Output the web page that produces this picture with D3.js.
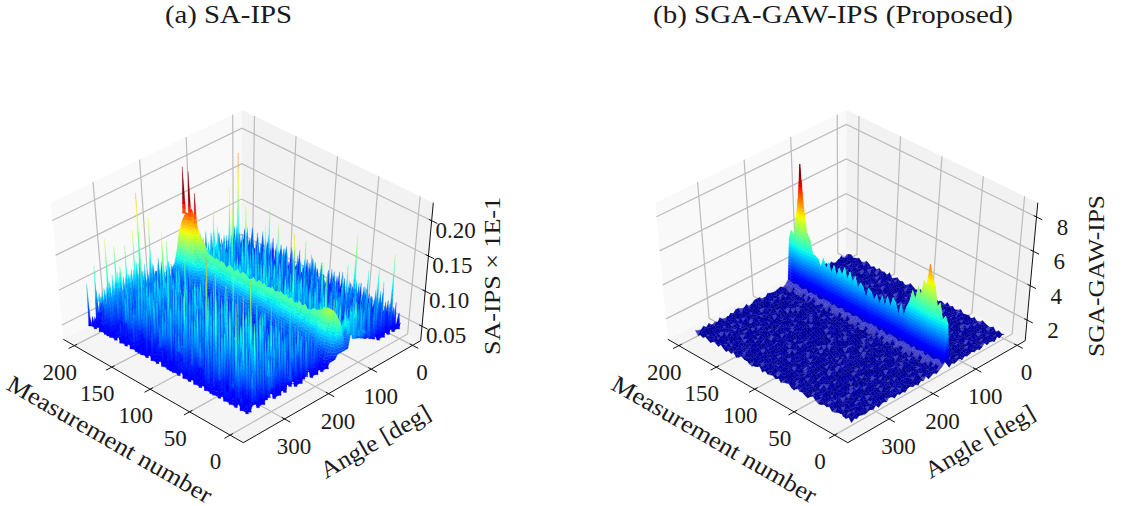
<!DOCTYPE html>
<html>
<head>
<meta charset="utf-8">
<script src="https://cdn.jsdelivr.net/npm/d3@7"></script>
<style>
html, body { margin: 0; background: #fff; }
text { font-family: "Liberation Serif", serif; fill: #1a1a1a; }
</style>
</head>
<body>
<svg id="chart" width="1126" height="506"></svg>
<script>
"use strict";
var measTicks = [ 0, 50, 100, 150, 200 ];
var angleTicks = [ 0, 100, 200, 300 ];
var zTicksA = [ 0.05, 0.10, 0.15, 0.20 ];
var zTicksB = [ 2, 4, 6, 8 ];
var zLabelsA = [ "0.05", "0.10", "0.15", "0.20" ];
var zLabelsB = [ "2", "4", "6", "8" ];

var surfA = [
"4637485936 5748396475 3869475836 4759386475 3948576394 7583649375",
"7349586a47 3859647385 4a63958473 6958473a64 8375964738 5a49376485",
"38a5749638 6475a83965 7394a86473 8a53947685 3a96485739 6484a75936",
"6947385b64 8539b64738 5964738b59 3748596b37 6495837b48 5739648573",
"4a73859647 b3849a6375 8a4739b658 4a73958b46 3a85749a63 8495b73648",
"7384b96a53 7496385a47 9b36485a73 9648b37596 4a85b36749 3a75849b63",
"5a3974b683 5a94c73685 4739a85c63 7a49385b76 3c84975a46 8573a96b47",
"8b46395a74 8356b94a73 6c84a35976 4b83a96574 8a36b95c47 3a85b64793",
"36c85a4b79 4a73c85b69 3a74b96385 c75a48b396 5a7c39a648 b7a46c3958",
"9a47b6385c 7b49a36c85 7a4b83c964 7a5b39c847 b6a395c748 3a9b75c468",
"4b83a7c596 3a8c57b4a9 6c38a5b749 3c8a5b6d47 9a3c75b846 ca58b3974a",
"a74c9b5836 c7a5b9386d 4a9c6b3785 a7c4b95a83 6d4a9b5c73 8a4c7b95a6",
"5c8a47d9b3 a6c58b4a97 d5a83c6b94 7b4d8a5c93 a8b5c74ad6 4b9c6a857b",
"b6a9c5d847 b3ca96d58b 4c7a9b6d85 c5a97b4c8d 5a9c7b84a6 d8b5a9c74b",
"7c5bd96a84 cb7a95c8d6 a5b8c96a7c 4ad7b95c8a 7d6ac9b85c 6a9d7b5c84",
"8d6ac7b95a c8d5ab97c6 b9d6a8c57b c8a5d9b6c7 a8c6bd97a5 c7b9a6d85c",
"a6c9d7b85c 9a7dc6b8a5 c7a9b6d8c5 b9d7a6c8b5 d9a7c5b8d6 a9c7bd68a5",
"9b7cad68c5 b8dc9a6b7c a5d8c7b9a6 cb7d9a6c8b 6cad8b7c9a 5d8ca7b96c",
"7c9ab8d6a5 c9b7ad8c6b 9d7ca8b6c9 a5b8dc7a9b 6d8ab9c7a6 cb9d7a8c5b",
"a8bc9d7a6c b8c9a7d6b9 c7a8bd9c6a b7c8a9d6bc 9a7cb8d6a9 c8bd7a9c6c",
"9a9b8c7aa9 8b9a7c8b9a a8b7c9a8b9 7c8a9b8c7a 9b8a9c8b7a 9cab9c8cde",
"5589aaaa98 8989a98989 9898a98998 8998989a89 8998a98989 a9abbdgihi",
"57bcdddddc aabaababaa baababaaba abaabaabaa babaababab bbdefhjlji",
"57cdeeedcc ccbbcbcbbc bcbcbbcbbc bcbcbbbcbc bbcbbcbcbc ccefhjijki",
"56bcdddcba bbaabababa babaaababa babaababab aababaabab bcdegghijh",
"5688999987 8787878787 8788787878 7878878788 7878787888 8abcdeffgf",
"4566777755 5656565556 5655656556 5656556565 6565565657 789aabbccb",
"4454545454 4545454534 5454535445 4354543543 5454354548 5678778898",
"4354536453 4635453645 3654354635 4536453546 3564354635 4565465657",
"5364375463 4738546374 6394756384 5739648374 6483759463 7485639574",
"3a64738596 4738a59463 8a47395864 7a58394a63 8573a94685 3a58473964",
"6385b74963 8a4739b563 7a96384a75 3b59473a68 5a38b74963 8a4b735986",
"4b7a3c6958 4c8a37b695 3a7c49b583 6c4a8b3795 a4c86b39a7 4b8c5a937a",
"7a4c96b385 a7c3b59a46 c9a47b386d 5a9c47b68a 37c5a9b46c 8a3b7c9465",
"3c8b5a7d94 6b3c8a597c 4d8a6c39b7 5a8c3b6d49 a7b4c8d395 7c4a96b3c8",
"a5b39d7c46 8d5a3c9b74 a6c39b5d8a 4c7ad39b68 5ca7b39d46 a8d5c37b9a",
"6c8a4b3d97 a4c7b3e96a 5b8d3c7a49 bd6c38a5e7 4b9a6d38c5 7ae4b8c396",
"8b3d6a9c47 bc5a39d7e4 9a6b3c8d57 a3c9e6b48d 7a5c3b9e6a 4d8b6a3c97",
"4e7a9c3b68 d5b39a7c46 ec8a35b9d6 7b4ea9c38d 5b7d39ae6c 4a8c3b5e97",
"a6c3e8b5d4 9c3a7e5b84 6d3b9c7a5e 8a3d6b4c9e 7b5a3d9c4e 6a8d3c7b5a",
"3d9b6a4e7c 5a3e8c6b9d 4a7e3c9b58 d6a3c8e5b7 9d4a6e3c8b 5e9a3b7d4c",
"b5a3e7d9c4 a8e36b9c5d 7a4d8e3b69 c5a7d3e9b4 6c8a3e5d9b 7a3e4c8b6d",
"6d3c8a5e9b 4d7c3a9e5b 8a3c6f4d9b 5ea3c7d6b9 4a8e3c6d9b 5a7d3c9e4b",
"9a4e6d3b8c 5f3a8d6c4e 9b3a7e5d8c 4a6e3d9b5c 8f3a6d4c9e 7b3a5d8e4c",
"5c7e3a9d6b 8a3f5c7d4b 9e6a3c8d5b 7e4a9c3f6d 5a8c3e7b4d 9a6e3c5d8b",
"d3a8c5f6b4 9e3a7d5c8b 4e6a9d3c7f 5b3e8a6d4c 9f3a7c5e8b 4d6a3e9c5b",
"4e9a6c3d8f 5b3a9e7c4d 8a5f3c9e6b 4a7d3e5c8f 6b3a9d4e7c 5a8e3d6c4b",
"8a3d6e4c9f 5a3e7b9d4c 6f3a8e5c9b 4d3a7f6c8e 5b4a9e3d7c 6a3f8d5c9e",
"3e7b9a5d4c 8e3a6f5b9c 4d7a3e8c5f 9a4d6c3e7b 8a5e3f9c6d 4b7a3e5c8d",
"9c5a3e8d6b 4a8e3c6f5b 9d3a7c4e8a 5f3c6a9e4d 7b3a8d5e9c 4a6f3c8e5b",
"5a8d3c6e4b 9a3e5c8d6a 4f7b3a9e5c 8a4d6e3c9b 5e3a7c8d4f 6a3e9b5c7d",
"7d3a5e9c4b 8a6d3e5c9a 4e8b3a6d7c 5a9e3c4d8a 6e3b7a5d9c 4a8d3e6c5b",
"4a7c3d5e8b 6a3d8c4e5a 9c3a6b8d4e 7a3c5d9b4a 8c3e6a5d7b 3c9a4d6b8a",
"8b3a6c4d9a 5c3a7e4b8c 3d6a9b4c7a 5d3b8a6c4e 7a3c9b5a8d 4b6a3c7d5a",
"3c6a8b4a5d 7a3b5c9a4b 6a3d7b4a8c 3a6c5b9a4d 6a3b8c5a7b 3d5a8b4c6a",
"6a4b3c7a5b 3a8c4a6b3d 5a7b3a4c8a 6b3a5c7a3b 4c8a3b5a6c 7a3b4a5c8a",
"4a6b3a5c7a 3b5a8a4b6a 3c5a7b3a6b 4a3c7a5b3a 6b3a8a4b5a 3c6a4b7a3b",
"4536475384 5647384956 3746584736 5846375948 3657483746 5938475364",
"5346473854 3647584635 4738564734 6354738465 3748563745 4638574635",
"4354635374 5346374536 4635473546 3745364735 4536473845 3647354635"
];
// rows of panel (a) that belong to the smooth ridge
var ridgeRowsA = [ 21, 22, 23, 24, 25, 26, 27, 28 ];

// thin spikes of panel (a): measurement, angle, height
var spikesA = [
  [ 194, 320, 0.163 ], [ 195, 345, 0.132 ], [ 200, 355, 0.107 ], [ 195, 300, 0.145 ],
  [ 187, 290, 0.148 ], [ 182, 280, 0.169 ], [ 199, 240, 0.200 ], [ 185, 240, 0.172 ],
  [ 175, 230, 0.154 ], [ 172, 225, 0.142 ], [ 169, 90, 0.174 ], [ 175, 60, 0.213 ],
  [ 154, 80, 0.155 ], [ 141, 50, 0.148 ], [ 119, 70, 0.145 ], [ 124, 90, 0.149 ],
  [ 72, 120, 0.175 ], [ 32, 120, 0.137 ], [ 49, 20, 0.157 ], [ 8, 10, 0.148 ],
  [ 23, 15, 0.120 ], [ 63, 70, 0.124 ], [ 48, 40, 0.119 ], [ 28, 30, 0.120 ],
  [ 160, 100, 0.153 ], [ 178, 110, 0.141 ], [ 90, 60, 0.136 ], [ 68, 320, 0.208 ],
  [ 31, 290, 0.190 ], [ 21, 300, 0.137 ], [ 86, 310, 0.114 ], [ 18, 330, 0.187 ],
  [ 51, 300, 0.137 ], [ 74, 290, 0.138 ], [ 135, 320, 0.110 ], [ 115, 300, 0.097 ],
  [ 27, 220, 0.087 ], [ 32, 200, 0.114 ], [ 28, 250, 0.115 ], [ 162, 300, 0.160 ],
  [ 135, 250, 0.146 ], [ 5, 5, 0.080 ], [ 43, 60, 0.114 ], [ 145, 70, 0.100 ],
  [ 128, 300, 0.154 ], [ 96, 320, 0.153 ], [ 63, 310, 0.188 ], [ 67, 280, 0.157 ],
  [ 21, 340, 0.178 ], [ 30, 270, 0.135 ], [ 39, 230, 0.129 ], [ 13, 200, 0.098 ],
  [ 11, 180, 0.120 ], [ 75, 250, 0.160 ], [ 105, 280, 0.114 ], [ 102, 340, 0.091 ],
  [ 168, 260, 0.106 ], [ 163, 330, 0.114 ], [ 174, 350, 0.096 ], [ 199, 340, 0.085 ],
  [ 52, 190, 0.144 ], [ 6, 150, 0.131 ], [ 14, 20, 0.109 ], [ 24, 40, 0.100 ],
  [ 179, 100, 0.118 ], [ 159, 60, 0.098 ], [ 127, 40, 0.097 ], [ 98, 30, 0.102 ]
];
// the red peak at the far end of the ridge
var peaksA = [ [ 198, 140, 0.206 ], [ 191, 140, 0.203 ], [ 184, 140, 0.176 ] ];

// noise floor of panel (b), same layout, single digit level
var floorB = [
"2130412352 1403215304 2513024132 0421352031 4205132413 0352142031",
"3021543012 4320153241 0325140532 1503241305 2134025314 2503124053",
"1504230153 0241350425 1304521302 3140520413 5021340253 1304251430",
"4213052341 3051420315 2403152041 2530143205 1340521304 2051340215",
"0352141305 2413052140 3521034152 0413250314 2053124035 4120531402",
"2140532041 5302141350 4120351420 3512040325 1420351240 3051420351",
"3051240315 1204351025 3041250134 1240531205 3412051340 2135024130",
"1420351402 3051240413 5201340521 3405120341 2053142035 1420351204",
"5203142051 4130250341 2051340215 0341205134 0325140253 1402531402",
"2135041320 5140325014 3125041320 5214030512 4130251403 2051340215",
"0412531042 3102540132 5014320513 2140532014 3520413025 1350241305",
"3140205143 2051430215 1304251403 5021340512 0341520134 2503124053",
"1253014205 3142053014 2530142053 1304521403 2514030251 4023150342",
"4032152031 4205132041 3052140325 1420351240 3051420513 1250341205",
"2051340215 0341250134 2051430215 0342150314 2053124035 1420351402",
"1340251403 2510342051 4130250341 2513042135 0413205134 0215340125",
"3204135021 4302150413 2503142053 1402350142 3051240315 4120534102",
"0512341052 1340251304 1250341205 3140251304 2513042031 5024130251",
"4103250314 2051340215 4032150342 5103241502 3140253014 2053142035",
"2350140325 1420351240 3051420513 2140325014 2503124053 1402531042",
"1402531402 3052140315 2140532041 3052140315 4205132410 3521405213",
"3125041320 5140325014 3215041352 0413250143 0251430215 1304251403",
"0341520134 2503124053 1402350142 3051240315 4120534102 5230412051",
"2051340215 0341250134 2051430215 0342150314 2053124035 1420351402",
"8598678597 6958796587 9568597968 5798687597 6958796587 8597698789",
"5464656475 3565456375 6453756465 4656375467 5365456374 6456746565",
"3140253014 2053142035 3125041320 5140325014 3215041352 0413250143",
"1250341205 3140251304 0341520134 2503124053 1402350142 3051240315",
"4032150342 5103241502 2051340215 0341250134 2051430215 0342150314",
"2140532041 3052140315 1402531402 3052140315 4205132410 3521405213",
"0251430215 1304251403 3125041320 5140325014 3215041352 0413250143",
"5203142051 4130250341 2350140325 1420351240 3051420513 2140325014",
"1304521302 3140520413 5021340253 1304251430 1504230153 0241350425",
"3051420315 2403152041 2530143205 1340521304 2051340215 4213052341",
"0413250314 2053124035 4120531402 0352141305 2413052140 3521034152",
"2140351240 3051420351 2140532041 5302141350 4120351420 3512040325",
"1204351025 3041250134 1240531205 3412051340 2135024130 3051240315",
"4032152031 4205132041 3052140325 1420351240 3051420513 1250341205",
"3204135021 4302150413 2503142053 1402350142 3051240315 4120534102",
"0512341052 1340251304 1250341205 3140251304 2513042031 5024130251",
"2135041320 5140325014 3125041320 5214030512 4130251403 2051340215",
"1253014205 3142053014 2530142053 1304521403 2514030251 4023150342",
"3140205143 2051430215 1304251403 5021340512 0341520134 2503124053",
"0412531042 3102540132 5014320513 2140532014 3520413025 1350241305",
"4103250314 2051340215 4032150342 5103241502 3140253014 2053142035",
"5203142051 4130250341 2051340215 0341205134 0325140253 1402531402",
"1420351402 3051240413 5201340521 3405120341 2053142035 1420351204",
"3051240315 1204351025 3041250134 1240531205 3412051340 2135024130",
"2140532041 5302141350 4120351420 3512040325 1420351240 3051420351",
"0352141305 2413052140 3521034152 0413250314 2053124035 4120531402",
"4213052341 3051420315 2403152041 2530143205 1340521304 2051340215",
"1504230153 0241350425 1304521302 3140520413 5021340253 1304251430",
"3021543012 4320153241 0325140532 1503241305 2134025314 2503124053",
"2130412352 1403215304 2513024132 0421352031 4205132413 0352142031",
"1340251403 2510342051 4130250341 2513042135 0413205134 0215340125",
"2051340215 0341250134 2051430215 0342150314 2053124035 1420351402",
"4032152031 4205132041 3052140325 1420351240 3051420513 1250341205",
"1253014205 3142053014 2530142053 1304521403 2514030251 4023150342",
"3140205143 2051430215 1304251403 5021340512 0341520134 2503124053",
"0412531042 3102540132 5014320513 2140532014 3520413025 1350241305"
];
// top of the ridge in panel (b), one value per measurement step, measurement 0 first
var wallTopB = [
  3.5, 3.9, 3.6, 4.5, 4.2, 5.3, 5.7, 6.4, 5.1, 5.3,
  4.4, 4.8, 4.0, 4.4, 3.7, 3.3, 2.7, 3.3, 2.6, 3.2,
  3.4, 2.8, 3.3, 2.7, 3.2, 2.6, 3.1, 2.7, 3.1, 3.2,
  2.6, 3.1, 3.3, 2.9, 3.5, 3.1, 3.6, 3.1, 3.7, 3.2,
  3.5, 3.0, 3.5, 3.0, 3.5, 3.1, 3.6, 3.0, 3.4, 3.5,
  3.5, 4.3, 4.6, 5.9, 8.5, 6.4, 5.2, 4.1, 4.3, 3.7
];

var surfaceCols = d3.range( 60 ).map( function( c ) { return c * 200 / 59; } );
var surfaceRows = d3.range( 60 ).map( function( r ) { return r * 6; } );

var svg = d3.select( "#chart" );

// matplotlib jet
var jetR = d3.scaleLinear().domain( [ 0, 0.35, 0.66, 0.89, 1 ] ).range( [ 0, 0, 1, 1, 0.5 ] ).clamp( true );
var jetG = d3.scaleLinear().domain( [ 0, 0.125, 0.375, 0.64, 0.91, 1 ] ).range( [ 0, 0, 1, 1, 0, 0 ] ).clamp( true );
var jetB = d3.scaleLinear().domain( [ 0, 0.11, 0.34, 0.65, 1 ] ).range( [ 0.5, 1, 1, 0, 0 ] ).clamp( true );
function jet( t ) {
  return d3.rgb( jetR( t ) * 255, jetG( t ) * 255, jetB( t ) * 255 ).formatHex();
}

// maps the unit square to a screen quad, perspective corrected
function quadMap( p0, p1, p2, p3 ) {
  var sx = p0[0] - p1[0] + p2[0] - p3[0], sy = p0[1] - p1[1] + p2[1] - p3[1];
  var dx1 = p1[0] - p2[0], dx2 = p3[0] - p2[0], dy1 = p1[1] - p2[1], dy2 = p3[1] - p2[1];
  var den = dx1 * dy2 - dx2 * dy1;
  var g = ( sx * dy2 - dx2 * sy ) / den, h = ( dx1 * sy - sx * dy1 ) / den;
  var a = p1[0] - p0[0] + g * p1[0], b = p3[0] - p0[0] + h * p3[0];
  var d = p1[1] - p0[1] + g * p1[1], e = p3[1] - p0[1] + h * p3[1];
  return function( u, v ) {
    var w = g * u + h * v + 1;
    return [ ( a * u + b * v + p0[0] ) / w, ( d * u + e * v + p0[1] ) / w ];
  };
}
var floorMap = quadMap( [ 420.7, 340.7 ], [ 241.5, 249 ], [ 63.3, 339.3 ], [ 243.3, 442.7 ] );
var topMap = quadMap( [ 433.3, 202.7 ], [ 242, 110 ], [ 50.7, 202.7 ], [ 243, 295 ] );
var xMeas = d3.scaleLinear().domain( [ -16, 215 ] ).range( [ 0, 1 ] );
var xAngle = d3.scaleLinear().domain( [ -20, 391 ] ).range( [ 0, 1 ] );

function project( m, t, z ) {
  var f = floorMap( m, t ), u = topMap( m, t );
  return [ f[0] + ( u[0] - f[0] ) * z, f[1] + ( u[1] - f[1] ) * z ];
}

function cut( pts, v, sign ) {
  var out = [];
  pts.forEach( function( p, i ) {
    var q = pts[( i + 1 ) % pts.length];
    var pIn = sign * ( p.z - v ) >= 0, qIn = sign * ( q.z - v ) >= 0;
    if ( pIn ) { out.push( p ); }
    if ( pIn !== qIn ) {
      var k = ( v - p.z ) / ( q.z - p.z );
      out.push( { x: p.x + ( q.x - p.x ) * k, y: p.y + ( q.y - p.y ) * k, z: v } );
    }
  } );
  return out;
}

function panel( cfg ) {
  var g = svg.append( "g" ).attr( "transform", "translate(" + cfg.dx + ",0)" );
  var yZ = d3.scaleLinear().domain( cfg.zLim ).range( [ 0, 1 ] );
  var color = d3.scaleLinear().domain( cfg.colorLim ).range( [ 0, 1 ] ).clamp( true );
  var step = ( cfg.colorLim[1] - cfg.colorLim[0] ) / 40;
  var line = d3.line();
  var polys = [];

  function vertex( meas, angle, z ) {
    var p = project( xMeas( meas ), xAngle( angle ), yZ( z ) );
    return { x: p[0], y: p[1], z: z };
  }

  // panes
  var panes = [
    { fill: "#f9f9f9", pts: [ [ 1, 1, 0 ], [ 1, 0, 0 ], [ 1, 0, 1 ], [ 1, 1, 1 ] ] },
    { fill: "#f2f2f2", pts: [ [ 1, 0, 0 ], [ 0, 0, 0 ], [ 0, 0, 1 ], [ 1, 0, 1 ] ] },
    { fill: "#f5f5f5", pts: [ [ 0, 0, 0 ], [ 1, 0, 0 ], [ 1, 1, 0 ], [ 0, 1, 0 ] ] }
  ];
  g.selectAll( "path.pane" ).data( panes ).join( "path" )
    .attr( "class", "pane" )
    .attr( "fill", function( d ) { return d.fill; } )
    .attr( "d", function( d ) {
      return line( d.pts.map( function( p ) { return project( p[0], p[1], p[2] ); } ) ) + "Z";
    } );

  // grid lines
  var grid = [];
  measTicks.forEach( function( v ) {
    var m = xMeas( v );
    grid.push( [ [ m, 1, 0 ], [ m, 0, 0 ], [ m, 0, 1 ] ] );
  } );
  angleTicks.forEach( function( v ) {
    var t = xAngle( v );
    grid.push( [ [ 0, t, 0 ], [ 1, t, 0 ], [ 1, t, 1 ] ] );
  } );
  cfg.zTicks.forEach( function( v ) {
    var z = yZ( v );
    grid.push( [ [ 1, 1, z ], [ 1, 0, z ], [ 0, 0, z ] ] );
  } );
  g.selectAll( "path.grid" ).data( grid ).join( "path" )
    .attr( "class", "grid" )
    .attr( "fill", "none" )
    .attr( "stroke", "#bcbcbc" )
    .attr( "stroke-width", 1.2 )
    .attr( "d", function( d ) {
      return line( d.map( function( p ) { return project( p[0], p[1], p[2] ); } ) );
    } );

  // slices one face in jet bands, k pulls the tip colour towards the face bottom
  function addFace( pts, k, light, bandStep ) {
    var lo = d3.min( pts, function( p ) { return p.z; } );
    var hi = d3.max( pts, function( p ) { return p.z; } );
    function tint( c ) { return light ? d3.interpolateRgb( c, "#fff" )( 0.25 ) : c; }
    if ( hi - lo < bandStep ) {
      polys.push( { pts: pts, fill: tint( jet( color( d3.mean( pts, function( p ) { return p.z; } ) ) ) ) } );
      return;
    }
    var first = Math.floor( lo / bandStep ), last = Math.floor( hi / bandStep );
    for ( var b = first; b <= last; b += 1 ) {
      var band = cut( cut( pts, b * bandStep, 1 ), ( b + 1 ) * bandStep, -1 );
      if ( band.length > 2 ) {
        var mid = Math.min( ( b + 0.5 ) * bandStep, hi );
        polys.push( { pts: band, fill: tint( jet( color( lo + ( mid - lo ) * k ) ) ) } );
      }
    }
  }

  function addSpike( meas, angle, base, top, k, dm, da ) {
    var apex = vertex( meas, angle, top );
    addFace( [ vertex( meas + dm, angle, base ), vertex( meas, angle + da, base ),
      vertex( meas - dm, angle, base ), apex ], k, false, step * 2 );
  }

  function keyOf( s ) {
    return Math.round( s[1] / 6 ) + "_" + Math.min( 59, Math.round( s[0] * 59 / 200 ) );
  }
  var extras = d3.group( cfg.spikes, keyOf );
  var hot = d3.group( cfg.peaks, keyOf );

  // the low sheet under the spikes: each noisy vertex drops to its lowest neighbour
  var sheet = cfg.grid.map( function( row, r ) {
    return row.map( function( v, c ) {
      if ( !cfg.spiky || cfg.smoothRows.indexOf( r ) >= 0 ) { return v; }
      var low = v;
      [ [ r - 1, c ], [ r + 1, c ], [ r, c - 1 ], [ r, c + 1 ] ].forEach( function( n ) {
        if ( cfg.grid[n[0]] && cfg.grid[n[0]][n[1]] !== undefined && cfg.smoothRows.indexOf( n[0] ) < 0 ) {
          low = Math.min( low, cfg.grid[n[0]][n[1]] );
        }
      } );
      return low;
    } );
  } );

  // back to front: low angle first, high measurement first
  for ( var r = 0; r < 60; r += 1 ) {
    for ( var c = 59; c >= 0; c -= 1 ) {
      if ( r < 59 && c < 59 ) {
        var smooth = cfg.smoothRows.indexOf( r ) >= 0;
        addFace( [
          vertex( surfaceCols[c], surfaceRows[r], sheet[r][c] ),
          vertex( surfaceCols[c + 1], surfaceRows[r], sheet[r][c + 1] ),
          vertex( surfaceCols[c + 1], surfaceRows[r + 1], sheet[r + 1][c + 1] ),
          vertex( surfaceCols[c], surfaceRows[r + 1], sheet[r + 1][c] )
        ], smooth ? 1 : cfg.k, cfg.isLight && cfg.isLight( r, c ), step );
      }
      if ( sheet[r][c] < cfg.grid[r][c] ) {
        addSpike( surfaceCols[c], surfaceRows[r], sheet[r][c], cfg.grid[r][c], cfg.k, 2.0, 3.2 );
      }
      ( extras.get( r + "_" + c ) || [] ).forEach( function( s ) {
        addSpike( s[0], s[1], sheet[r][c], s[2], cfg.k, 1.5, 2.6 );
      } );
      ( hot.get( r + "_" + c ) || [] ).forEach( function( s ) {
        addSpike( s[0], s[1], sheet[r][c], s[2], 1, 2.2, 4 );
      } );
    }
  }

  g.append( "g" ).selectAll( "path" ).data( polys ).join( "path" )
    .attr( "fill", function( d ) { return d.fill; } )
    .attr( "stroke", function( d ) { return d.fill; } )
    .attr( "stroke-width", 0.25 )
    .attr( "d", function( d ) {
      return line( d.pts.map( function( p ) { return [ p.x, p.y ]; } ) ) + "Z";
    } );

  // axis lines and ticks
  var axes = [
    [ [ 0, 1, 0 ], [ 1, 1, 0 ] ],
    [ [ 0, 1, 0 ], [ 0, 0, 0 ] ],
    [ [ 0, 0, 0 ], [ 0, 0, 1 ] ]
  ];
  measTicks.forEach( function( v ) { axes.push( [ [ xMeas( v ), 0.985, 0 ], [ xMeas( v ), 1.03, 0 ] ] ); } );
  angleTicks.forEach( function( v ) { axes.push( [ [ 0.015, xAngle( v ), 0 ], [ -0.03, xAngle( v ), 0 ] ] ); } );
  cfg.zTicks.forEach( function( v ) { axes.push( [ [ 0.015, 0, yZ( v ) ], [ -0.03, 0, yZ( v ) ] ] ); } );
  g.selectAll( "path.axis" ).data( axes ).join( "path" )
    .attr( "class", "axis" )
    .attr( "fill", "none" )
    .attr( "stroke", "#111" )
    .attr( "stroke-width", 1 )
    .attr( "d", function( d ) {
      return line( d.map( function( p ) { return project( p[0], p[1], p[2] ); } ) );
    } );

  // tick labels
  function labels( vals, txt, pos, ox, oy ) {
    g.selectAll( null ).data( vals ).join( "text" )
      .attr( "x", function( d ) { return pos( d )[0] + ox; } )
      .attr( "y", function( d ) { return pos( d )[1] + oy; } )
      .attr( "dy", "0.35em" )
      .attr( "text-anchor", "middle" )
      .attr( "font-size", 23 )
      .text( function( d, i ) { return txt( d, i ); } );
  }
  labels( measTicks, String, function( v ) { return project( xMeas( v ), 1, 0 ); }, -14.5, 26 );
  labels( angleTicks, String, function( v ) { return project( 0, xAngle( v ), 0 ); }, 9.5, 27 );
  labels( cfg.zTicks, function( d, i ) { return cfg.zLabels[i]; },
    function( v ) { return project( 0, 0, yZ( v ) ); }, cfg.zOff[0], cfg.zOff[1] );

  // axis titles
  function title( txt, x, y, rot, len ) {
    g.append( "text" )
      .attr( "transform", "translate(" + x + "," + y + ") rotate(" + rot + ")" )
      .attr( "dy", "0.35em" )
      .attr( "text-anchor", "middle" )
      .attr( "font-size", 24 )
      .attr( "textLength", len )
      .attr( "lengthAdjust", "spacingAndGlyphs" )
      .text( txt );
  }
  title( "Measurement number", 110, 439, 29.8, 232 );
  title( "Angle [deg]", 375, 441, -30, 123 );
  title( cfg.zTitle, cfg.zTitleX, 276, -90, cfg.zTitleLen );
  g.append( "text" )
    .attr( "x", cfg.titleX )
    .attr( "y", 23 )
    .attr( "font-size", 25 )
    .attr( "textLength", cfg.titleLen )
    .attr( "lengthAdjust", "spacingAndGlyphs" )
    .text( cfg.title );
}

function decode( rows, toZ ) {
  return rows.map( function( row ) {
    var s = row.replace( / /g, "" );
    return surfaceCols.map( function( d, c ) {
      return toZ( parseInt( s[c] || s[s.length - 1], 36 ) );
    } );
  } );
}

var levelsB = decode( floorB, function( l ) { return l; } );
var gridA = decode( surfA, function( l ) { return 0.03 + l * 0.0055; } );
var gridB = decode( floorB, function( l ) { return 0.95 + l * 0.05; } );
gridB[23] = wallTopB;

panel( {
  dx: 0,
  zLim: [ 0.0296, 0.2256 ],
  colorLim: [ 0.033, 0.165 ],
  zTicks: zTicksA,
  zLabels: zLabelsA,
  zOff: [ 24, 9 ],
  grid: gridA,
  spiky: true,
  smoothRows: ridgeRowsA,
  spikes: spikesA,
  peaks: peaksA,
  k: 0.55,
  zTitle: "SA-IPS \u00d7 1E-1",
  zTitleX: 492,
  zTitleLen: 158,
  title: "(a) SA-IPS",
  titleX: 165,
  titleLen: 127
} );

panel( {
  dx: 604.5,
  zLim: [ 0.8, 8.83 ],
  colorLim: [ 0.9, 7.9 ],
  zTicks: zTicksB,
  zLabels: zLabelsB,
  zOff: [ 26, 10 ],
  grid: gridB,
  spiky: false,
  smoothRows: [],
  spikes: [],
  peaks: [],
  k: 1,
  isLight: function( r, c ) { return r !== 22 && r !== 23 && levelsB[r][c] >= 5; },
  zTitle: "SGA-GAW-IPS",
  zTitleX: 491,
  zTitleLen: 162,
  title: "(b) SGA-GAW-IPS (Proposed)",
  titleX: 48.5,
  titleLen: 360
} );
</script>
</body>
</html>
